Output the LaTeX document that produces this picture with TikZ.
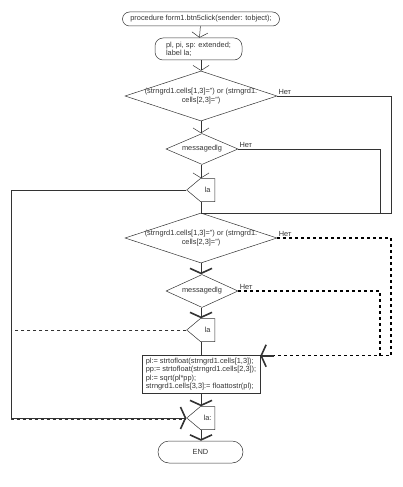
\documentclass[tikz,border=0pt]{standalone}
\usepackage{fontspec}
\setmainfont{Liberation Sans}
\usetikzlibrary{shapes.geometric,shapes.symbols,arrows.meta}

\begin{document}
\begin{tikzpicture}[x=1pt, y=-1pt, font=\fontsize{7.4}{8.2}\selectfont, color=black!80,
  line width=0.5pt,
  term/.style={draw, rounded corners=7pt, minimum height=14pt, inner sep=1pt},
  blk/.style={draw, rectangle, align=left, inner sep=2pt},
  cond/.style={draw, diamond, inner sep=0pt},
  lab/.style={draw, signal, signal to=west, signal pointer angle=80,
    minimum width=28pt, minimum height=23pt, inner sep=1pt},
  flow/.style={-{Straight Barb[length=5pt, width=16pt]}},
  bflow/.style={-{Straight Barb[length=5pt, width=22pt, line width=1.6pt]}},
  nobr/.style={dashed, line width=1.3pt, black},
  net/.style={above right, inner sep=1pt}]
  \useasboundingbox (0,0) rectangle (402,487);

  % 端点和处理框
  \node[term, minimum width=157pt] (start) at (201,19)
    {procedure form1.btn5click(sender: tobject);};
  \node[term, rounded corners=8pt, minimum width=87pt, minimum height=22pt,
    align=left] (decl) at (198.5,49) {pl, pi, sp: extended;\\label la;};

  % 条件
  \node[cond, minimum width=152pt, minimum height=50pt,
    label={[align=center]center:(strngrd1.cells[1,3]='') or (strngrd1.\\cells[2,3]='')}]
    (dia1) at (201,96) {};
  \node[cond, minimum width=72pt, minimum height=31pt,
    label=center:messagedlg] (dia2) at (202,149) {};
  \node[lab, anchor=east] (la1) at (215,190) {la};
  \node[cond, minimum width=152pt, minimum height=50pt,
    label={[align=center]center:(strngrd1.cells[1,3]='') or (strngrd1.\\cells[2,3]='')}]
    (dia3) at (201,238) {};
  \node[cond, minimum width=72pt, minimum height=33pt,
    label=center:messagedlg] (dia4) at (202,291) {};
  \node[lab, anchor=east] (la2) at (215,330) {la};
  \node[blk, minimum width=118pt, minimum height=38pt] (calc) at (201,374)
    {pl:= strtofloat(strngrd1.cells[1,3]);\\
     pp:= strtofloat(strngrd1.cells[2,3]);\\
     pl:= sqrt(pl*pp);\\
     strngrd1.cells[3,3]:= floattostr(pl);};
  \node[lab, anchor=east] (la3) at (215,418) {la:};
  \node[term, rounded corners=11pt, minimum width=85pt, minimum height=22pt]
    (end) at (200.5,452) {END};

  % 旁路的竖线
  \coordinate (r1) at (391,0);
  \coordinate (r2) at (380,0);
  \coordinate (lft) at (11,0);

  % 主干
  \draw[flow] (start) -- (decl);
  \draw[flow] (start.south |- decl.south) -- (start.south |- dia1.north);
  \draw[flow] (dia1.south) -- (dia2.north -| dia1.south);
  \draw[flow] (dia2.south -| dia1.south) -- (dia1.south |- la1.north);
  \draw (dia1.south |- la1.south) -- (dia3.north);
  \draw[bflow] (dia3.south) -- (dia3.south |- dia4.north);
  \draw[bflow] (dia3.south |- dia4.south) -- (dia3.south |- la2.north);
  \draw (dia3.south |- la2.south) -- (calc.north);
  \draw[bflow] (calc.south) -- (calc.south |- la3.north);
  \draw[bflow] (calc.south |- la3.south) -- (end.north -| calc.south);

  % 否 分支
  \draw (dia1.east) -- node[net, pos=0] {Нет} (dia1.east -| r1) |- (dia3.north);
  \draw (dia2.east) -- node[net, pos=0] {Нет} (dia2.east -| r2) -- (dia3.north -| r2);
  \draw[nobr] (dia3.east) -- node[net, pos=0, color=black!80] {Нет} (dia3.east -| r1)
    |- ([yshift=-1pt]calc.north east);
  \draw[nobr] (dia4.east) -- node[net, pos=0, color=black!80] {Нет} (dia4.east -| r2)
    -- ([yshift=-1pt]calc.north east -| r2);
  \draw[line width=1.6pt, -{Straight Barb[length=5pt, width=22pt]}]
    ([xshift=14pt, yshift=-1pt]calc.north east) -- ([yshift=-1pt]calc.north east);

  % 标号跳转
  \draw (la1.west) -- (la1.west -| lft) |- (la3.west);
  \draw[dashed] (la2.west) -- (la2.west -| lft) -- ([yshift=-1pt]lft |- la3.west)
    -- ([yshift=-1pt]la3.west);
  \draw[bflow] ([xshift=-14pt]la3.west) -- (la3.west);
\end{tikzpicture}
\end{document}
